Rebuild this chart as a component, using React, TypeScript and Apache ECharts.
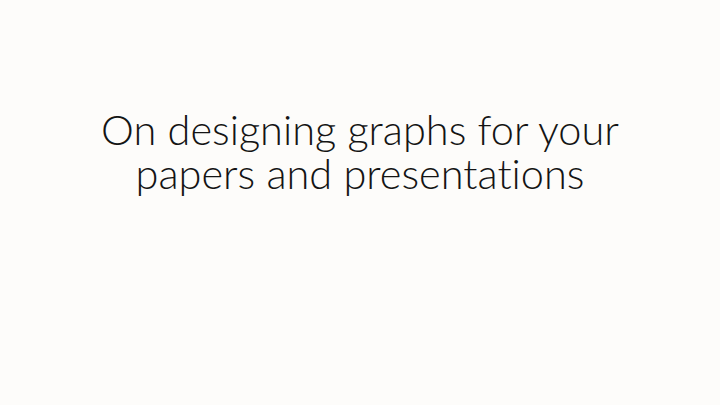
import React, { useEffect, useRef } from "react";
import * as echarts from "echarts";

const titleLines: string[] = ["On designing graphs for your", "papers and presentat\u200Cions"];

export default function App() {
  const ref = useRef<HTMLDivElement>(null);
  useEffect(() => {
    document.body.style.margin = "0";
    const chart = echarts.init(ref.current!, null, { renderer: "svg" });
    chart.setOption({
      animation: false,
      backgroundColor: "#fdfcfa",
      graphic: [
        {
          type: "text",
          x: 360,
          y: 151,
          style: {
            text: titleLines.join("\n"),
            fill: "#141414",
            font: "300 41.5px Lato, 'Open Sans', sans-serif",
            lineHeight: 44,
            textAlign: "center",
            textVerticalAlign: "middle",
            verticalAlign: "middle",
          },
        },
      ],
    });
    return () => chart.dispose();
  }, []);
  return <div ref={ref} style={{ width: 720, height: 405 }} />;
}
